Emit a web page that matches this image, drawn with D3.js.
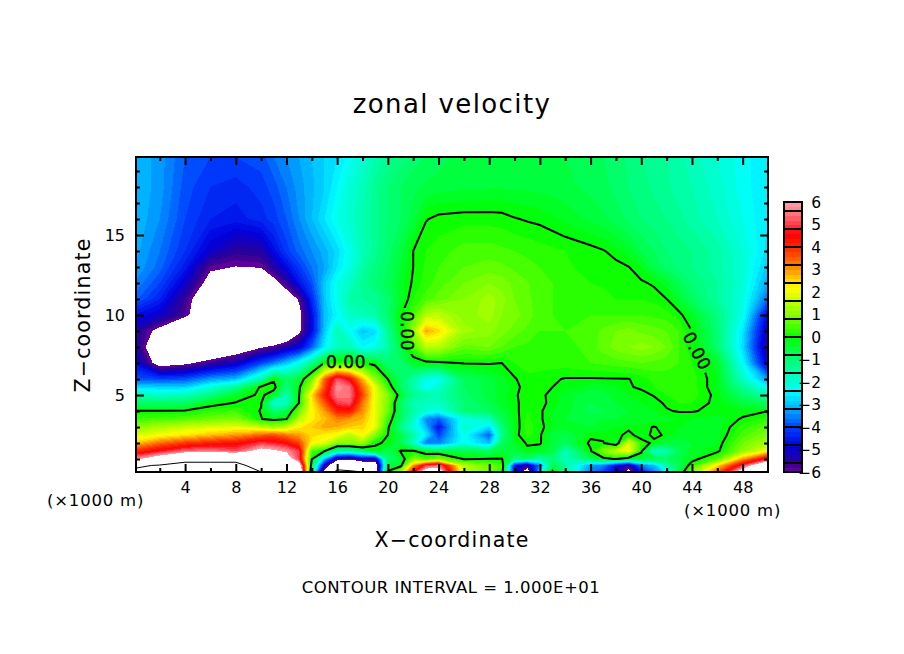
<!DOCTYPE html>
<html>
<head>
<meta charset="utf-8">
<script src="https://cdn.jsdelivr.net/npm/d3@7"></script>
<style>
body { margin: 0; background: #fff; }
text { font-family: "DejaVu Sans"; fill: #000; }
</style>
</head>
<body>
<div id="chart"></div>
<script>
const xKm = [0,2,4,6,8,10, 11,12,13,14,15,16,17,18,19,20,21,22,23,24, 26,28, 29,30,31,32,33,34, 36, 37,38,39,40,41,42,43,44, 46,48,50];
const zKm = [19.875,18,16,14,13,12,11,10,9,8,7,6,5.5,5,4.5,4,3.5,3,2.5,2,1.5,1,0.6,0.19];

// zonal velocity, one row per height, top to bottom
const u = [
[-3,-3.3,-3.8,-4,-4,-3.9, -3.6,-3.4,-3.2,-3,-2.8,-2.6,-2.3,-2,-1.6,-1.3,-1.1,-.9,-.8,-.7, -.5,-.5, -.5,-.5,-.5,-.5,-.55,-.6, -.7, -.8,-.9,-1.05,-1.2,-1.3,-1.4,-1.55,-1.7, -2,-2.3,-2.6],
[-3,-3.3,-3.9,-4.2,-4.3,-4.1, -3.9,-3.6,-3.3,-3.05,-2.8,-2.4,-2,-1.7,-1.3,-1,-.8,-.65,-.55,-.5, -.45,-.42, -.42,-.43,-.45,-.47,-.5,-.55, -.65, -.75,-.85,-1,-1.1,-1.25,-1.35,-1.5,-1.6, -1.9,-2.3,-2.6],
[-3,-3.4,-4,-4.4,-4.5,-4.3, -4.1,-3.8,-3.4,-3,-2.6,-2.2,-1.9,-1.6,-1.3,-1,-.8,-.5,-.02,.08, .12,.12, .1,.02,-.03,-.07,-.15,-.25, -.45, -.55,-.7,-.85,-1,-1.1,-1.2,-1.35,-1.5, -1.8,-2.2,-2.6],
[-3.1,-3.6,-4.2,-5,-5.5,-5.4, -4.7,-4.1,-3.7,-3.4,-3.1,-2.7,-2.2,-1.7,-1.3,-.9,-.5,0,.2,.3, .5,.5, .45,.4,.35,.3,.25,.2, .1, .02,-.1,-.3,-.6,-.8,-1,-1.1,-1.2, -1.5,-2,-2.7],
[-3.2,-3.7,-4.5,-5.85,-6.02,-5.95, -5.4,-4.7,-4.1,-3.6,-3.2,-2.6,-2.1,-1.5,-1.1,-.8,-.4,0,.25,.4, .6,.7, .65,.55,.47,.4,.32,.25, .1, .09,.08,.01,-.2,-.6,-.9,-1.05,-1.2, -1.5,-2,-2.9],
[-3.4,-4,-5,-6.4,-7,-7, -6.3,-5.6,-4.6,-3.9,-2.9,-2.2,-1.8,-1.3,-1,-.7,-.3,.05,.3,.5, .8,1, .9,.75,.62,.5,.4,.3, .2, .18,.15,.12,.05,-.05,-.3,-.7,-1, -1.4,-2,-3.2],
[-3.7,-4.4,-5.6,-7,-8,-7.5, -7,-6.6,-5.9,-4.3,-2.9,-2.2,-1.5,-1.4,-1.3,-.9,-.3,.2,.5,.7, 1,1.3, 1.1,.8,.65,.5,.4,.3, .3, .25,.2,.2,.2,.15,0,-.4,-.8, -1.4,-2.1,-3.7],
[-4.6,-5,-5.8,-7,-8,-8, -7.5,-7,-6.3,-4.7,-3,-2.4,-1.8,-1.7,-1.5,-.9,-.05,.5,1.5,1.6, 1.1,1.3, 1,.9,.7,.5,.4,.3, .4, .4,.4,.4,.4,.35,.3,.1,-.3, -1.1,-2.2,-4.8],
[-5.3,-6.3,-7.5,-8,-8.5,-8.5, -8,-7.5,-6.2,-4.7,-2.9,-1.6,-2.3,-2.9,-2.7,-1.3,-.2,1.2,2.9,2.5, 1.3,1.1, .9,.7,.55,.4,.4,.4, .5, .65,.8,.9,.75,.7,.6,.4,0, -1,-2.6,-5.2],
[-5.2,-7,-7.5,-7.5,-6.8,-6.1, -5.8,-5.3,-4.9,-3.8,-2.5,-1.8,-1.6,-2.4,-2.2,-1.5,-.5,.5,1.5,1.5, .7,.8, .6,.4,.35,.3,.3,.3, .5, .7,.9,1,1.1,1,.8,.4,.05, -.9,-2.7,-5.5],
[-4.7,-6.5,-6.2,-5.6,-5.1,-4, -3.5,-2.9,-2.2,-1.2,.05,.3,.25,.1,-.2,-1,-.9,-.3,-.15,-.1, .03,.03, 0,.2,.3,.3,.3,.3, .4, .45,.5,.55,.6,.55,.5,.4,.2, -.3,-2.3,-5],
[-3.9,-4,-3.9,-3.3,-3,-1.5, -.1,-.8,-.5,.9,3.5,5.2,4.5,2.8,1.1,0,-.8,-1.5,-2.1,-2.3, -.8,-.5, -.25,-.03,.15,.1,.04,-.02, -.03, -.02,-.02,-.01,.1,.25,.3,.35,.3, -.2,-1.8,-3.3],
[-2.7,-2.8,-2.8,-2,-1.3,.1, .2,-1.1,-.1,1.5,3.7,5.8,5.4,3.4,2,.4,-.8,-1.5,-2.4,-1.9, -.8,-.5, -.3,-.15,.2,.15,0,-.1, -.3, -.3,-.2,-.03,.05,.2,.3,.3,.3, -.2,-1.3,-2.4],
[-1.6,-1.8,-1.7,-1.1,-.3,.1, -.3,-1.6,0,2.5,4.2,5.6,5.5,3.8,2,1,-.3,-1.3,-1.5,-1.6, -.9,-.5, -.3,-.05,.15,.08,-.1,-.3, -.6, -.5,-.3,-.2,-.1,.02,.2,.3,.3, -.1,-.9,-1.6],
[-.8,-.9,-.8,-.2,.03,.03, -2,-1.8,.05,2.3,3.6,5,5.2,3.3,2,.9,-.8,-1.6,-1.8,-1.8, -1,-.6, -.3,-.1,.2,.1,-.1,-.3, -.6, -.5,-.4,-.3,-.2,-.1,.05,.2,.2, -.1,-.5,-.8],
[.02,.03,.05,.3,.4,-.03, -1,-.6,.8,2.2,3,4.2,4.3,3.1,2,.8,-.7,-1.5,-2,-2.2, -1,-.8, -.5,-.1,.2,.05,-.2,-.3, -.7, -.6,-.5,-.4,-.3,-.2,-.03,.03,.03, -.1,-.15,0],
[.4,.5,.6,.8,.95,.02, -.2,-.02,1.5,2.3,2.7,3.2,3,2.8,2,.4,-.8,-1.8,-3.4,-3.8, -2.2,-1.7, -.7,-.15,.25,.05,-.2,-.4, -.5, -.4,-.4,-.4,-.4,-.3,-.25,-.2,-.2, -.3,.05,.3],
[1.1,1.4,1.7,1.9,2,1.6, 1.3,1.6,2.3,2.6,2.9,2.8,2.6,2.5,2,.1,-1.2,-2,-3,-4.6, -1.8,-2.7, -1,-.2,.3,.1,-.2,-.3, -.4, -.3,-.2,-.15,-.1,.02,-.1,-.2,-.3, -.3,.3,.7],
[1.8,2.1,2.4,2.7,3,3.5, 3.7,3.3,3,2.5,2.3,2.1,1.5,2.2,1,0,-.6,-1.5,-2.5,-4, -2.2,-3.8, -1.2,-.15,.3,.05,-.5,-.6, -.1, -.1,-.2,.2,-.3,.15,-.1,-.3,-.3, -.3,.5,1],
[2.6,3.4,3.9,4.2,4.4,5, 4.8,4.5,3.8,2.2,1.9,1,1,1.2,.05,-.05,-.6,-1.8,-3.6,-3.5, -2.2,-3, -.8,-.3,.05,.05,-.5,-.8, .1, .03,-.5,1.9,.3,-.15,-.5,-.5,-.4, -.2,.8,1.4],
[4,4.7,5.4,5.6,5.2,6.5, 6.2,5.8,5,.5,0,-1.5,-1.5,-1,-.1,-.7,.05,.05,-.3,-.5, -.5,-.8, -.4,-.5,-.1,-.3,-.5,-1.7, -.05, 1,1.6,2.1,.1,-1.8,-1.6,-.7,-.3, -.1,1.1,2.2],
[5.7,7,9,9,9,8.5, 7.5,7,5,.02,-3,-5.5,-5.8,-5,-5.2,-.9,-.5,1,.5,1, -.03,.02, .03,-1,-1,-1.5,-1,-1.7, -.7, -.2,.05,-.4,-.4,-.6,-.8,-.5,-.2, .6,3,5],
[9.6,10.2,11,11,11,8.5, 8.8,8,7,-.5,-5,-8,-8,-7.5,-7,-.5,-.3,3,5,5.5, 1.5,.8, .5,-4.5,-5.5,-3.5,-.5,-1.4, -3.3, -3.5,-4.7,-5.5,-3.5,-3,-1.5,-.7,.3, 2.4,5,8],
[10.5,11,12,12.5,12,10, 9.5,9,8,-1,-6.5,-11,-10.5,-10,-6.7,.1,1.5,4.5,7,7, 1.5,.9, .3,-4.5,-6.8,-2.5,.1,-1.5, -3.5, -4,-4.8,-6.5,-4.5,-3.5,-2.5,-.5,1, 3.5,7,9]
];

const colorValues = [-6,-5.6,-4.8,-4,-3.2,-2.4,-1.6,-.8,0,.8,1.6,2.2,2.4,3.2,4,4.6,4.8,5.6,6];
const colorStops = ['#7000a0','#300090','#0000e0','#0040ff','#00a8ff','#00ffff','#00ffb0','#00ff60','#00ff00','#70ff00','#c0ff00','#ffff00','#ffe800','#ff8000','#ff2800','#ff0000','#ff2030','#ff8088','#ffa0a8'];
const xTicks = [4,8,12,16,20,24,28,32,36,40,44,48];
const zTicks = [5,10,15];
const barTicks = [-6,-5,-4,-3,-2,-1,0,1,2,3,4,5,6];

const width = 904;
const height = 654;
const plot = {left: 136, right: 768, top: 157, bottom: 472};

const x = d3.scaleLinear().domain([0.125, 50]).range([plot.left, plot.right]);
const y = d3.scaleLinear().domain([0.19, 19.875]).range([plot.bottom, plot.top]);
const color = d3.scaleLinear().domain(colorValues).range(colorStops);

// grid index to pixel, the grid is not evenly spaced
const xIndex = d3.scaleLinear().domain(d3.range(xKm.length)).range(xKm.map(d => x(d))).clamp(true);
const zIndex = d3.scaleLinear().domain(d3.range(zKm.length)).range(zKm.map(d => y(d))).clamp(true);
const gridPath = d3.geoPath(d3.geoTransform({
  point(a, b) { this.stream.point(xIndex(a - 0.5), zIndex(b - 0.5)); }
}));

const svg = d3.select('#chart').append('svg')
  .attr('width', width)
  .attr('height', height)
  .style('display', 'block');

svg.append('clipPath').attr('id', 'plotclip')
  .append('rect')
  .attr('x', plot.left).attr('y', plot.top)
  .attr('width', plot.right - plot.left).attr('height', plot.bottom - plot.top);

const field = u.flat();
const contourer = d3.contours().size([xKm.length, zKm.length]);
const bands = d3.range(-30, 30).map(i => i / 5);

const map = svg.append('g').attr('clip-path', 'url(#plotclip)');
map.append('g')
  .attr('shape-rendering', 'crispEdges')
  .selectAll('path')
  .data(bands)
  .join('path')
  .attr('d', t => gridPath(contourer.contour(field, t)))
  .attr('fill', t => color(t + 0.1));
// above the colour range stays white
map.append('path')
  .attr('d', gridPath(contourer.contour(field, 6)))
  .attr('fill', '#fff')
  .attr('shape-rendering', 'crispEdges');

// gaps in the zero line for its labels
const labels = [
  {x: 346, y: 362, angle: 0},
  {x: 407, y: 331, angle: 90},
  {x: 697, y: 351, angle: 62}
];
const mask = svg.append('mask').attr('id', 'gaps').attr('maskUnits', 'userSpaceOnUse')
  .attr('x', 0).attr('y', 0).attr('width', width).attr('height', height);
mask.append('rect').attr('width', width).attr('height', height).attr('fill', '#fff');
mask.selectAll('rect.gap').data(labels).join('rect').attr('class', 'gap')
  .attr('x', -23).attr('y', -9).attr('width', 46).attr('height', 18).attr('fill', '#000')
  .attr('transform', d => `translate(${d.x},${d.y}) rotate(${d.angle})`);

map.append('path')
  .attr('d', gridPath(contourer.contour(field, 0)))
  .attr('fill', 'none').attr('stroke', '#000').attr('stroke-width', 2)
  .attr('mask', 'url(#gaps)');
[10, -10].forEach(level => {
  map.append('path')
    .attr('d', gridPath(contourer.contour(field, level)))
    .attr('fill', 'none').attr('stroke', '#000').attr('stroke-width', 1);
});

svg.selectAll('text.zero').data(labels).join('text').attr('class', 'zero')
  .attr('transform', d => `translate(${d.x},${d.y}) rotate(${d.angle})`)
  .attr('text-anchor', 'middle').attr('dy', '0.36em')
  .attr('font-size', 17).attr('letter-spacing', 0.6)
  .attr('stroke', '#000').attr('stroke-width', 0.4)
  .text('0.00');

// frame and ticks on all four sides
function ticks(g) {
  g.select('.domain').remove();
  g.selectAll('.tick line').attr('stroke', '#000').attr('stroke-width', 2);
  g.selectAll('.tick text').attr('font-size', 16).attr('font-family', 'DejaVu Sans').attr('fill', '#000');
}
const xMinor = d3.range(2, 50, 4);
const zMinor = d3.range(1, 20).filter(d => d % 5 !== 0);
svg.append('g').attr('transform', `translate(0,${plot.bottom})`)
  .call(d3.axisBottom(x).tickValues(xTicks).tickSize(-8).tickPadding(10)).call(ticks);
svg.append('g').attr('transform', `translate(0,${plot.bottom})`)
  .call(d3.axisBottom(x).tickValues(xMinor).tickSize(-4).tickFormat('')).call(ticks);
svg.append('g').attr('transform', `translate(0,${plot.top})`)
  .call(d3.axisTop(x).tickValues(xTicks).tickSize(-8).tickFormat('')).call(ticks);
svg.append('g').attr('transform', `translate(0,${plot.top})`)
  .call(d3.axisTop(x).tickValues(xMinor).tickSize(-4).tickFormat('')).call(ticks);
svg.append('g').attr('transform', `translate(${plot.left},0)`)
  .call(d3.axisLeft(y).tickValues(zTicks).tickSize(-8).tickPadding(11)).call(ticks);
svg.append('g').attr('transform', `translate(${plot.left},0)`)
  .call(d3.axisLeft(y).tickValues(zMinor).tickSize(-4).tickFormat('')).call(ticks);
svg.append('g').attr('transform', `translate(${plot.right},0)`)
  .call(d3.axisRight(y).tickValues(zTicks).tickSize(-8).tickFormat('')).call(ticks);
svg.append('g').attr('transform', `translate(${plot.right},0)`)
  .call(d3.axisRight(y).tickValues(zMinor).tickSize(-4).tickFormat('')).call(ticks);
svg.append('rect')
  .attr('x', plot.left).attr('y', plot.top)
  .attr('width', plot.right - plot.left).attr('height', plot.bottom - plot.top)
  .attr('fill', 'none').attr('stroke', '#000').attr('stroke-width', 2);

// colour bar
const bar = {left: 784, right: 802};
const barY = d3.scaleLinear().domain([-6, 6]).range([472, 202]);
svg.append('g').attr('shape-rendering', 'crispEdges')
  .selectAll('rect')
  .data(bands)
  .join('rect')
  .attr('x', bar.left)
  .attr('width', bar.right - bar.left)
  .attr('y', t => barY(t + 0.2))
  .attr('height', barY(0) - barY(0.2) + 0.5)
  .attr('fill', t => color(t + 0.1));
svg.append('g').selectAll('line')
  .data(d3.range(-7, 8).map(i => i * 0.8))
  .join('line')
  .attr('x1', bar.left).attr('x2', bar.right)
  .attr('y1', d => barY(d)).attr('y2', d => barY(d))
  .attr('stroke', '#000').attr('stroke-width', 2);
svg.append('rect')
  .attr('x', bar.left).attr('y', 202)
  .attr('width', bar.right - bar.left).attr('height', 270)
  .attr('fill', 'none').attr('stroke', '#000').attr('stroke-width', 2);
svg.append('g').selectAll('text')
  .data(barTicks)
  .join('text')
  .attr('x', 821).attr('y', d => barY(d))
  .attr('dy', '0.36em').attr('text-anchor', 'end')
  .attr('font-size', 15.5)
  .text(d => d < 0 ? '\u2212' + (-d) : d);

// titles
function label(px, py, size, spacing, str, anchor) {
  return svg.append('text')
    .attr('x', px).attr('y', py)
    .attr('text-anchor', anchor || 'middle')
    .attr('font-size', size)
    .attr('letter-spacing', spacing)
    .text(str);
}
label(452, 113, 26, 1.4, 'zonal velocity');
label(452, 547, 20.5, 1.2, 'X\u2212coordinate');
label(451, 593, 16.5, 0.5, 'CONTOUR INTERVAL = 1.000E+01');
label(47, 506, 16.5, 0.8, '(\u00d71000 m)', 'start');
label(684, 516, 16.5, 0.8, '(\u00d71000 m)', 'start');
label(0, 0, 20.5, 1.2, 'Z\u2212coordinate').attr('transform', 'translate(90,315) rotate(-90)');
</script>
</body>
</html>
